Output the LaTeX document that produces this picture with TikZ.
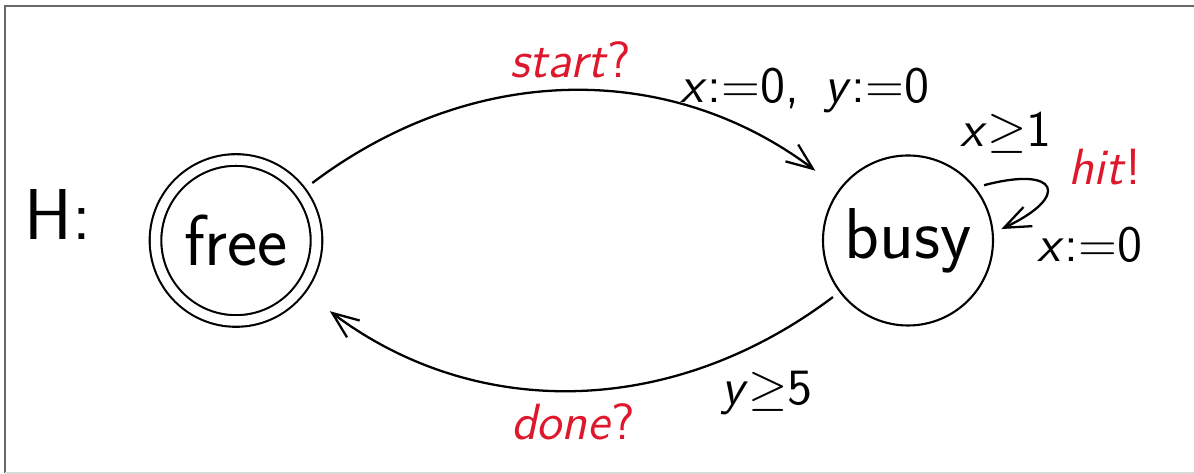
\documentclass[tikz,border=0pt]{standalone}
\usetikzlibrary{arrows.meta}
\definecolor{syncred}{RGB}{222,24,44}
\definecolor{framegray}{RGB}{105,105,105}
\begin{document}
\begin{tikzpicture}[
  every node/.style={font=\sffamily\fontsize{14.5}{17}\selectfont},
  state/.style={circle, draw, line width=0.6pt, inner sep=0pt,
    font=\sffamily\fontsize{20.5}{24}\selectfont},
  edge/.style={-{Straight Barb[length=7.5pt,width=6pt]}, line width=0.65pt,
    shorten >=0.22cm},
  sync/.style={text=syncred},
  guard/.style={anchor=base}
]
  \useasboundingbox (0,0) rectangle (11.94,4.74);
  \draw[framegray, line width=0.7pt] (11.94,4.68) -- (0.05,4.68) -- (0.05,0.01);
  \draw[gray!30, line width=0.6pt] (0.05,0.01) -- (11.94,0.01);

  \node[font=\sffamily\fontsize{20.5}{24}\selectfont] (hname) at (0.58,2.59) {H:};

  \node[state, double, double distance=2.7pt, minimum size=1.61cm,
    outer sep=0.15cm] (free) at (2.36,2.335) {free};
  \node[state, minimum size=1.70cm, outer sep=0.09cm] (busy) at (9.08,2.335) {busy};

  \draw[edge] (free) to[out=37, in=143] (busy);
  \draw[edge] (busy) to[out=217, in=323] (free);
  \draw[edge, shorten >=0pt] (busy.36) to[out=15, in=25, looseness=4.2] (busy.7);

  \node[sync, guard] (lstart) at (5.71,3.96) {\textit{start}?};
  \node[guard] (lreset) at (8.05,3.71) {\textit{x}:=0,\enspace\textit{y}:=0};
  \node[guard] (lgx) at (10.06,3.27) {\textit{x}$\geq$1};
  \node[sync, guard] (lhit) at (11.05,2.89) {\textit{hit}!};
  \node[guard] (lxr) at (10.90,2.12) {\textit{x}:=0};
  \node[guard] (lgy) at (7.67,0.69) {\textit{y}$\geq$5};
  \node[sync, guard] (ldone) at (5.73,0.34) {\textit{done}?};
\end{tikzpicture}
\end{document}
